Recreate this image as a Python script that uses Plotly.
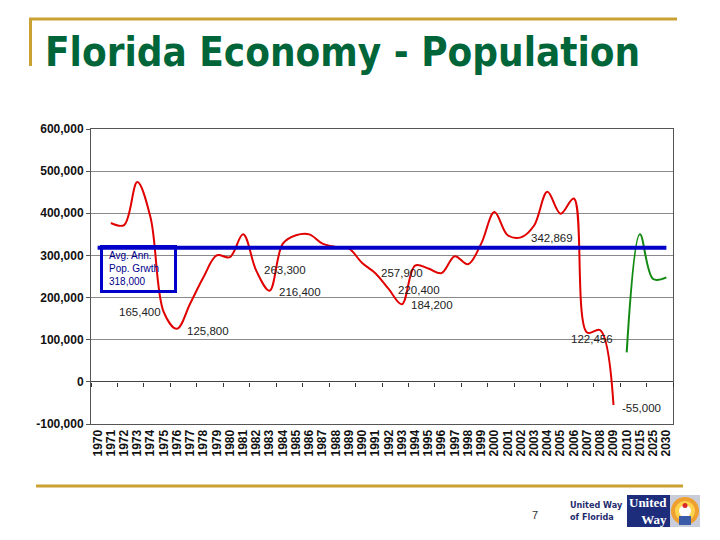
import plotly.graph_objects as go

# ---------------- data ----------------
years = [str(y) for y in range(1970, 2011)] + ["2015", "2025", "2030"]

hist_years = [str(y) for y in range(1971, 2010)]
hist_values = [377000, 372000, 474000, 390000, 165400, 125800, 186000, 248000,
               300000, 296000, 350000, 263300, 216400, 328000, 348000, 350000,
               328000, 320000, 316000, 282000, 257900, 220400, 184200, 276000,
               269000, 258000, 298000, 279000, 328000, 403000, 348000, 342869,
               371000, 451000, 399000, 435000, 117000, 122456, -55000]

proj_years = ["2010", "2015", "2025", "2030"]
proj_values = [70000, 350000, 244000, 248000]

avg_growth = 318000

y_tickvals = [-100000, 0, 100000, 200000, 300000, 400000, 500000, 600000]
y_ticktext = ["-100,000", "0", "100,000", "200,000", "300,000", "400,000", "500,000", "600,000"]

labeled_years = ["1975", "1976", "1982", "1983", "1991", "1992", "1993", "2002", "2008", "2009"]

# ---------------- geometry helpers (pixels -> paper) ----------------
W, H = 720, 540
L, R, T, B = 91, 673, 129, 424
PW, PH = R - L, B - T


def px(x):
    return (x - L) / PW


def py(y):
    return (B - y) / PH


fig = go.Figure()

fig.add_trace(go.Scatter(x=hist_years, y=hist_values, mode="lines",
                         line=dict(color="#E00000", width=2, shape="spline", smoothing=1.0),
                         hoverinfo="skip", showlegend=False))
fig.add_trace(go.Scatter(x=proj_years, y=proj_values, mode="lines",
                         line=dict(color="#128A12", width=2, shape="spline", smoothing=1.0),
                         hoverinfo="skip", showlegend=False))
fig.add_trace(go.Scatter(x=[years[0], years[-1]], y=[avg_growth, avg_growth], mode="lines",
                         line=dict(color="#0000C8", width=4),
                         hoverinfo="skip", showlegend=False))
# invisible helper trace so the zero-line tick axis knows its categories
fig.add_trace(go.Scatter(x=years, y=[0] * len(years), xaxis="x2", mode="markers",
                         marker=dict(opacity=0, size=1), hoverinfo="skip", showlegend=False))

label_style = {
    "1975": dict(xanchor="right", xshift=-1, yshift=0),
    "1976": dict(xanchor="left", xshift=8, yshift=-2),
    "1982": dict(xanchor="left", xshift=6, yshift=1),
    "1983": dict(xanchor="left", xshift=7, yshift=-1),
    "1991": dict(xanchor="left", xshift=4, yshift=0),
    "1992": dict(xanchor="left", xshift=7, yshift=-1),
    "1993": dict(xanchor="left", xshift=7, yshift=-1),
    "2002": dict(xanchor="left", xshift=8, yshift=-1),
    "2008": dict(xanchor="left", xshift=-31, yshift=-9),
    "2009": dict(xanchor="left", xshift=7, yshift=-3),
}

annotations = []
for yr in labeled_years:
    v = hist_values[hist_years.index(yr)]
    st = label_style[yr]
    annotations.append(dict(x=years.index(yr), y=v, xref="x", yref="y", text=f"{v:,}",
                            showarrow=False, yanchor="middle",
                            font=dict(family="Liberation Sans, Arial", size=11.5, color="#222222"),
                            **st))

# average growth text box
annotations.append(dict(x=px(107), y=py(268), xref="paper", yref="paper", xanchor="left", yanchor="middle",
                        text="Avg. Ann.<br>Pop. Grwth<br>" + f"{avg_growth:,}", align="left", showarrow=False,
                        font=dict(family="Liberation Sans, Arial", size=10, color="#00008B")))

# title
annotations.append(dict(x=px(43), y=py(52), xref="paper", yref="paper", xanchor="left", yanchor="middle",
                        text="<b>Florida Economy - Population</b>", showarrow=False,
                        font=dict(family="DejaVu Sans Condensed, Liberation Sans",
                                  size=40, color="#00663A")))
# page number
annotations.append(dict(x=px(535), y=py(515), xref="paper", yref="paper", xanchor="center", yanchor="middle",
                        text="7", showarrow=False,
                        font=dict(family="Liberation Sans, Arial", size=11, color="#333333")))
# logo texts
annotations.append(dict(x=px(568), y=py(511), xref="paper", yref="paper", xanchor="left", yanchor="middle",
                        text="<b>United Way<br>of Florida</b>", align="left", showarrow=False,
                        font=dict(family="DejaVu Sans Condensed, Liberation Sans",
                                  size=9, color="#1F2C6E")))
annotations.append(dict(x=px(669), y=py(511), xref="paper", yref="paper", xanchor="right", yanchor="middle",
                        text="<b>United</b><br><b>Way</b>", align="right", showarrow=False,
                        font=dict(family="Liberation Serif, DejaVu Serif", size=13, color="white")))

shapes = [
    # avg text box border
    dict(type="rect", xref="paper", yref="paper", x0=px(101.5), x1=px(175.5), y0=py(291.5), y1=py(246.5),
         line=dict(color="#0000C8", width=3)),
    # gold decorative lines
    dict(type="line", xref="paper", yref="paper", x0=px(29), x1=px(677), y0=py(19), y1=py(19),
         line=dict(color="#C9A233", width=3)),
    dict(type="line", xref="paper", yref="paper", x0=px(30.5), x1=px(30.5), y0=py(18), y1=py(66),
         line=dict(color="#C9A233", width=3)),
    dict(type="line", xref="paper", yref="paper", x0=px(36), x1=px(683), y0=py(486), y1=py(486),
         line=dict(color="#C9A233", width=3)),
    # logo blue box
    dict(type="rect", xref="paper", yref="paper", x0=px(627), x1=px(670), y0=py(527), y1=py(495),
         fillcolor="#1E2C7C", line=dict(width=0)),
    # emblem
    dict(type="rect", xref="paper", yref="paper", x0=px(670), x1=px(700), y0=py(527), y1=py(495),
         fillcolor="#C9CCD9", line=dict(width=0)),
    dict(type="circle", xref="paper", yref="paper", x0=px(671), x1=px(699), y0=py(525), y1=py(497),
         fillcolor="#F0A030", line=dict(width=0)),
    dict(type="circle", xref="paper", yref="paper", x0=px(675), x1=px(695), y0=py(521), y1=py(501),
         fillcolor="#FFD34E", line=dict(width=0)),
    dict(type="circle", xref="paper", yref="paper", x0=px(679), x1=px(691), y0=py(517), y1=py(505),
         fillcolor="#FFFFFF", line=dict(width=0)),
    dict(type="circle", xref="paper", yref="paper", x0=px(682.5), x1=px(687.5), y0=py(508), y1=py(503),
         fillcolor="#D8262B", line=dict(width=0)),
    dict(type="rect", xref="paper", yref="paper", x0=px(679), x1=px(691), y0=py(525), y1=py(516),
         fillcolor="#3B5BA8", line=dict(width=0)),
]

axis_font = dict(family="Liberation Sans, Arial", size=12, color="#111111", weight="bold")

fig.update_layout(
    width=W, height=H,
    margin=dict(l=L, r=W - R, t=T, b=H - B, pad=0),
    paper_bgcolor="white", plot_bgcolor="white",
    showlegend=False,
    xaxis=dict(type="category", categoryorder="array", categoryarray=years,
               tickmode="array", tickvals=years, ticktext=years,
               range=[-0.5, len(years) - 0.5], tickangle=-90, tickfont=axis_font,
               showgrid=False, zeroline=False, showline=True, mirror=True,
               linecolor="#555555", linewidth=1, ticks="", fixedrange=True),
    xaxis2=dict(type="category", categoryorder="array", categoryarray=years, overlaying="x",
                anchor="free", position=1 / 7, range=[-0.5, len(years) - 0.5],
                showticklabels=False, showgrid=False, zeroline=False, showline=False,
                ticks="outside", ticklen=4, tickwidth=1, tickcolor="#333333", tickson="boundaries"),
    yaxis=dict(range=[-100000, 600000], tickvals=y_tickvals, ticktext=y_ticktext, tickfont=axis_font,
               showgrid=True, gridcolor="#8A8A8A", gridwidth=1,
               zeroline=True, zerolinecolor="#444444", zerolinewidth=1,
               showline=True, mirror=True, linecolor="#555555", linewidth=1,
               ticks="outside", ticklen=4, tickcolor="#555555"),
    annotations=annotations,
    shapes=shapes,
)

fig.write_html("out.html", config={"displayModeBar": False},
               post_script="document.body.style.margin='0';")
